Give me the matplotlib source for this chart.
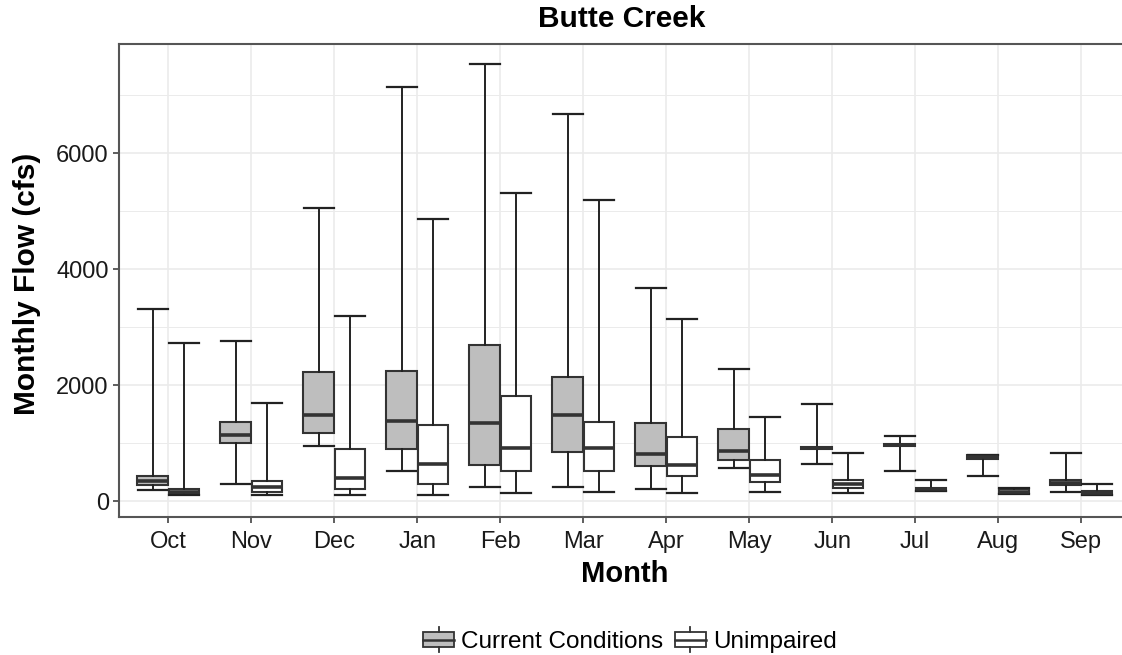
import matplotlib
matplotlib.use("Agg")
import matplotlib.pyplot as plt
import numpy as np
from matplotlib.legend_handler import HandlerBase
from matplotlib.patches import Rectangle, Patch
from matplotlib.lines import Line2D

plt.rcParams['font.family'] = ['Liberation Sans', 'DejaVu Sans']

months = ['Oct', 'Nov', 'Dec', 'Jan', 'Feb', 'Mar', 'Apr', 'May', 'Jun', 'Jul', 'Aug', 'Sep']
groups = ['Current Conditions', 'Unimpaired']

# five-number summaries (min, q1, median, q3, max) in cfs
cur_min = [190, 305, 960, 523, 253, 247, 218, 580, 638, 528, 441, 166]
cur_q1 = [282, 1011, 1178, 908, 632, 851, 609, 713, 900, 945, 735, 276]
cur_med = [356, 1144, 1489, 1391, 1356, 1489, 810, 868, 924, 971, 769, 321]
cur_q3 = [443, 1374, 2224, 2247, 2690, 2138, 1345, 1241, 940, 995, 795, 367]
cur_max = [3316, 2764, 5063, 7149, 7534, 6684, 3672, 2276, 1672, 1131, 800, 828]

unimp_min = [115, 115, 115, 115, 138, 167, 138, 167, 148, 178, 130, 105]
unimp_q1 = [126, 167, 218, 305, 523, 523, 443, 328, 224, 185, 140, 110]
unimp_med = [161, 247, 408, 649, 925, 925, 621, 460, 293, 205, 165, 135]
unimp_q3 = [218, 356, 908, 1316, 1810, 1374, 1103, 713, 367, 234, 210, 175]
unimp_max = [2736, 1701, 3201, 4874, 5310, 5201, 3149, 1448, 828, 367, 225, 298]

EDGE = '#333333'
FILLS = ['#BEBEBE', '#FFFFFF']
W = 0.375


def make_stats(lo, q1, med, q3, hi):
    return [dict(whislo=a, q1=b, med=c, q3=d, whishi=e, fliers=[])
            for a, b, c, d, e in zip(lo, q1, med, q3, hi)]


series = [make_stats(cur_min, cur_q1, cur_med, cur_q3, cur_max),
          make_stats(unimp_min, unimp_q1, unimp_med, unimp_q3, unimp_max)]

fig = plt.figure(figsize=(11.22, 6.55), dpi=100)
ax = fig.add_axes([118.5 / 1122, 1 - 517 / 655, (1131 - 118.5) / 1122, (517 - 44) / 655])

x = np.arange(len(months))
for i, (stats, fc) in enumerate(zip(series, FILLS)):
    pos = x + (i - 0.5) * W
    ax.bxp(stats, positions=pos, widths=W * 0.98, capwidths=W * 0.96,
           patch_artist=True, showfliers=False, manage_ticks=False,
           boxprops=dict(facecolor=fc, edgecolor=EDGE, linewidth=1.5),
           medianprops=dict(color=EDGE, linewidth=2.6, solid_capstyle='butt'),
           whiskerprops=dict(color='#222222', linewidth=1.4),
           capprops=dict(color='#222222', linewidth=1.6))

ax.set_xlim(-0.6, len(months) - 0.4)
ax.set_ylim(-271, 7884)
ax.set_xticks(x)
ax.set_xticklabels(months)
ax.set_yticks([0, 2000, 4000, 6000])
ax.set_yticks([1000, 3000, 5000, 7000], minor=True)
ax.tick_params(axis='both', which='major', labelsize=17, labelcolor='#1a1a1a',
               color=EDGE, length=4, width=1.1, pad=3)
ax.tick_params(axis='x', which='major', pad=6)
ax.tick_params(axis='y', which='minor', length=0)
ax.grid(True, which='major', color='#EBEBEB', linewidth=1.2)
ax.grid(True, which='minor', axis='y', color='#EBEBEB', linewidth=0.7)
ax.set_axisbelow(True)
for s in ax.spines.values():
    s.set_color('#555555')
    s.set_linewidth(1.5)

ax.set_xlabel('Month', fontsize=21, fontweight='bold', va='center')
ax.xaxis.set_label_coords(0.5, -(574.5 - 517) / 473)
ax.set_ylabel('Monthly Flow (cfs)', fontsize=21.5, fontweight='bold', va='center')
ax.yaxis.set_label_coords((27 - 118.5) / 1012.5, (517 - 283.5) / 473)
fig.text(622 / 1122, 1 - 19 / 655, 'Butte Creek', ha='center', va='center',
         fontsize=21.5, fontweight='bold')


class BoxKey(HandlerBase):
    def create_artists(self, legend, orig_handle, xdescent, ydescent,
                       width, height, fontsize, trans):
        x0, y0 = -xdescent, -ydescent
        fc = orig_handle.get_facecolor()
        rect = Rectangle((x0, y0 + height * 0.2), width, height * 0.6,
                         facecolor=fc, edgecolor=EDGE, linewidth=1.3, transform=trans)
        med = Line2D([x0, x0 + width], [y0 + height / 2] * 2, color=EDGE,
                     linewidth=1.8, transform=trans)
        top = Line2D([x0 + width / 2] * 2, [y0 + height * 0.8, y0 + height],
                     color=EDGE, linewidth=1.3, transform=trans)
        bot = Line2D([x0 + width / 2] * 2, [y0, y0 + height * 0.2],
                     color=EDGE, linewidth=1.3, transform=trans)
        return [rect, med, top, bot]


handles = [Patch(facecolor=fc) for fc in FILLS]
fig.legend(handles, groups, handler_map={Patch: BoxKey()}, loc='center',
           bbox_to_anchor=(0.5615, 1 - 640 / 655), ncol=2, frameon=False,
           fontsize=17.5, handlelength=1.25, handleheight=1.2,
           handletextpad=0.3, columnspacing=0.5)

fig.savefig('out.png', dpi=100)
